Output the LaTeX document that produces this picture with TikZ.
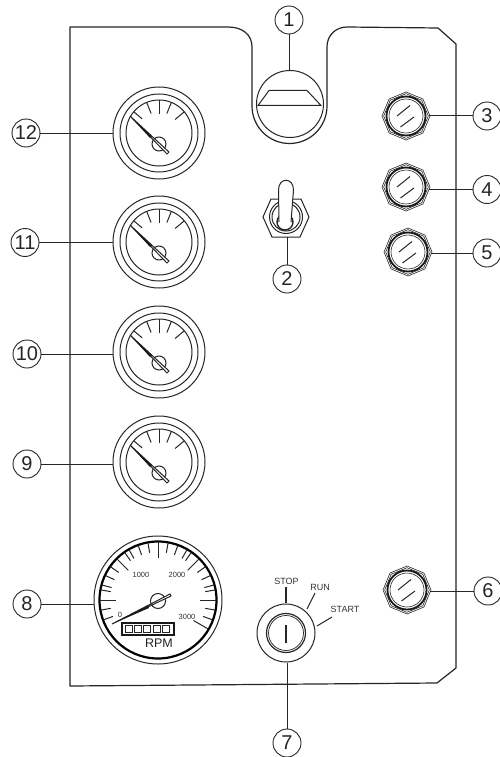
\documentclass[tikz,border=0pt]{standalone}
\usepackage{fontspec}
\setmainfont{Liberation Sans}
\tikzset{
  ink/.style={line width=1pt,draw=black!85},
  callout/.style={circle,draw=black!85,line width=0.9pt,minimum size=28pt,inner sep=0pt,font=\fontsize{20}{20}\selectfont,text=black!85,fill=white},
  lead/.style={line width=1pt,draw=black!85},
  gaugering/.style={circle,draw=black!85,line width=1pt,minimum size=92pt,inner sep=0pt},
  nutring/.style={circle,minimum size=45pt,inner sep=0pt},
  tiny/.style={font=\fontsize{7.5}{8}\selectfont,text=black!80,inner sep=0pt},
  keylabel/.style={font=\fontsize{9}{9}\selectfont,text=black!80,inner sep=0pt}
}
\newcommand{\drawgauge}[2]{%
  \begin{scope}[shift={(#1,#2)}]
    \draw[ink] (0,0) circle[radius=39pt];
    \draw[ink] (0,0) circle[radius=33pt];
    \draw[ink] (90:19pt) -- (90:33pt);
    \foreach \a in {40,68,112} {\draw[ink] (\a:21pt) -- (\a:33pt);}
    \draw[ink] (140:22pt) -- (140:33pt);
    \draw[ink] (0,11) circle[radius=7pt];
    \draw[ink,fill=white] (-29,-17) -- (10,19) -- (8,21) -- cycle;
    \fill[black!90] (-29,-17) -- (-7,3.5) -- (-9,5) -- cycle;
  \end{scope}}
\newcommand{\drawnut}[2]{%
  \begin{scope}[shift={(#1,#2)}]
    \draw[line width=0.6pt,draw=black!85] (0:24pt)--(45:24pt)--(90:24pt)--(135:24pt)--(180:24pt)--(225:24pt)--(270:24pt)--(315:24pt)--cycle;
    \draw[line width=0.6pt,draw=black!85] (0:22.3pt)--(45:22.3pt)--(90:22.3pt)--(135:22.3pt)--(180:22.3pt)--(225:22.3pt)--(270:22.3pt)--(315:22.3pt)--cycle;
    \draw[line width=1.8pt,draw=black!90,fill=white] (0,0) circle[radius=19.5pt];
    \draw[line width=0.6pt,draw=black!85] (0,0) circle[radius=17pt];
    \draw[ink] (-9,0) -- (4,-10.5);
    \draw[ink] (-5.5,11) -- (8,1);
  \end{scope}}
\begin{document}
\begin{tikzpicture}[x=1pt,y=-1pt]
\useasboundingbox (0,0) rectangle (500,757);
\fill[white] (0,0) rectangle (500,757);
% panel
\draw[line width=1.2pt,draw=black!85,line join=round]
  (70,27) -- (228,27) .. controls (243,27) and (252,35) .. (252,47) -- (252,106)
  arc[start angle=180,end angle=360,radius=37.5pt]
  -- (327,47) .. controls (327,35) and (336,27) .. (347,27) -- (438,28) -- (456,44)
  -- (456,668) -- (437,683) -- (70,686) -- cycle;
% item 1
\node[circle,draw=black!85,line width=1pt,minimum size=67pt,inner sep=0pt] (lamp) at (290,104) {};
\draw[ink] (258,105.5) -- (269,90.5) -- (307,90.5) -- (321,105.5) -- cycle;
% toggle
\node[circle,minimum size=39pt,inner sep=0pt] (toggle) at (286,217) {};
\draw[ink] (263,217) -- (271,199) -- (301,199) -- (309,217) -- (300,237) -- (272,237) -- cycle;
\draw[ink,fill=white] (286,217) circle[radius=16.5pt];
\draw[ink] (286,217) circle[radius=14pt];
\draw[line width=1.4pt,draw=black!85] (285,222) circle[radius=8pt];
\draw[ink,fill=white] (279,222) -- (278.5,190) .. controls (278.5,177) and (293.5,177) .. (293.5,190) -- (291,222);
% gauges
\node[gaugering] (g12) at (159,133) {};
\node[gaugering] (g11) at (159,242) {};
\node[gaugering] (g10) at (159,352) {};
\node[gaugering] (g9) at (159,462) {};
\drawgauge{159}{133}\drawgauge{159}{242}\drawgauge{159}{352}\drawgauge{159}{462}
% tachometer
\node[circle,draw=black!85,line width=1pt,minimum size=128pt,inner sep=0pt] (tach) at (158,600) {};
\begin{scope}[shift={(158,600)}]
  \draw[line width=2.2pt,draw=black] (0,0) circle[radius=58.5pt];
  \foreach \a in {100,110,120,125,145,155,165,170,190,200,80,70,60,55,35,25,15,10,-10,-20} {\draw[ink] (\a:58pt) -- (\a:48pt);}
  \foreach \a in {90,45,135,0,180} {\draw[ink] (\a:58pt) -- (\a:42pt);}
  \draw[ink] (-30:58pt) -- (-30:41pt);
  \draw[ink] (0,1) circle[radius=7.5pt];
  \draw[ink,fill=white] (-46,24) -- (12,-6) -- (13,-4) -- cycle;
  \fill[black!90] (-46,24) -- (-10,5.5) -- (-9,8) -- cycle;
\end{scope}
\draw[line width=1.6pt,draw=black!90] (122,623) rectangle (174,635);
\foreach \i in {0,1,2,3,4} {\draw[line width=0.7pt,draw=black!85] (125+9.4*\i,625.5) rectangle (132+9.4*\i,632.5);}
\node[font=\fontsize{12.5}{13}\selectfont,text=black!85,inner sep=0pt] (rpm) at (159,643) {RPM};
\node[tiny] (t0) at (120,615) {0};
\node[tiny] (t1) at (141,575) {1000};
\node[tiny] (t2) at (177,575) {2000};
\node[tiny] (t3) at (187,617) {3000};
% key
\node[circle,draw=black!85,line width=1pt,minimum size=58pt,inner sep=0pt] (key) at (286,633) {};
\draw[line width=1.2pt,draw=black!85] (286,633) circle[radius=19.5pt];
\draw[line width=0.7pt,draw=black!85] (286,633) circle[radius=17.5pt];
\draw[line width=1.5pt,draw=black!85] (286,625) -- (286,643);
\draw[line width=1.2pt,draw=black!85] (286,587) -- (286,603);
\draw[ink] (315,593) -- (307,609);
\draw[ink] (332,617) -- (317,626);
\node[keylabel] (stop) at (286.5,581) {STOP};
\node[keylabel] (run) at (320,587) {RUN};
\node[keylabel] (start) at (345,609) {START};
% nuts
\node[nutring] (n3) at (406,116) {};
\node[nutring] (n4) at (406,187) {};
\node[nutring] (n5) at (408,252) {};
\node[nutring] (n6) at (407,590) {};
\drawnut{406}{116}\drawnut{406}{187}\drawnut{408}{252}\drawnut{407}{590}
% callouts
\node[callout] (c1) at (289,20) {1};
\node[callout] (c2) at (287,279) {2};
\node[callout] (c3) at (487,116) {3};
\node[callout] (c4) at (487,189.5) {4};
\node[callout] (c5) at (487,253) {5};
\node[callout] (c6) at (488,591) {6};
\node[callout] (c7) at (287,743) {7};
\node[callout] (c8) at (27,604) {8};
\node[callout] (c9) at (27,464) {9};
\node[callout] (c10) at (27,354) {10};
\node[callout] (c11) at (25,242.5) {11};
\node[callout] (c12) at (26,133) {12};
% leaders
\draw[lead] (c1) -- (c1 |- lamp.north);
\draw[lead] (c2) -- (c2 |- toggle.south);
\draw[lead] (c3) -- (c3 -| n3.east);
\draw[lead] (c4) -- (c4 -| n4.east);
\draw[lead] (c5) -- (c5 -| n5.east);
\draw[lead] (c6) -- (c6 -| n6.east);
\draw[lead] (c7) -- (c7 |- key.south);
\draw[lead] (c8) -- (c8 -| tach.west);
\draw[lead] (c9) -- (c9 -| g9.west);
\draw[lead] (c10) -- (c10 -| g10.west);
\draw[lead] (c11) -- (c11 -| g11.west);
\draw[lead] (c12) -- (c12 -| g12.west);
\end{tikzpicture}
\end{document}
